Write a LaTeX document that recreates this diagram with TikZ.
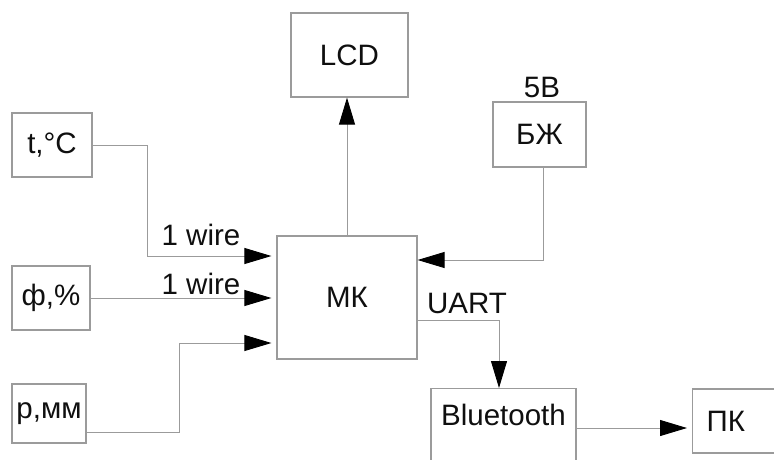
\documentclass[tikz,border=0pt]{standalone}
\usepackage{fontspec}
\setmainfont{Liberation Sans}
\usetikzlibrary{arrows.meta}
\definecolor{boxgray}{RGB}{155,155,155}
\definecolor{inkblack}{RGB}{15,15,15}

\begin{document}
\begin{tikzpicture}[x=1pt,y=-1pt,
        font=\fontsize{29.5}{33}\selectfont, text=inkblack,
        block/.style={draw=boxgray, line width=1.2pt, inner sep=0pt},
        wire/.style={draw=boxgray, line width=0.9pt,
            -{Triangle[length=27pt,width=16pt,color=black]}}]
            \useasboundingbox (0,0) rectangle (774,459);
            \clip (0,0) rectangle (774,459);

            \node[block, minimum width=117pt, minimum height=84pt] (lcd) at (349.5,55) {LCD};
            \node[block, minimum width=80pt, minimum height=64pt] (temp) at (52,145) {t,°C};
            \node[block, minimum width=78pt, minimum height=64pt] (hum) at (51,298) {ф,\%};
            \node[block, minimum width=74pt, minimum height=59pt] (pres) at (49,413.5) {р,мм};
            \node[block, minimum width=140pt, minimum height=123pt] (mk) at (347,297.5) {МК};
            \node[block, minimum width=93pt, minimum height=65pt] (bzh) at (539.5,134.5) {БЖ};
            \node[block, anchor=north, minimum width=145pt, inner ysep=14pt,
                text height=23pt, text depth=60pt] (bt) at (503.5,388) {Bluetooth};
            \node[block, anchor=west, minimum height=64pt, inner xsep=14pt,
                text width=100pt, align=left] (pk) at (692,421) {ПК};

            \node (v5) at (542,87) {5В};
            \node (w1) at (201,235) {1 wire};
            \node (w2) at (201,284) {1 wire};
            \node (uart) at (467,303) {UART};

            \draw[wire, shorten >=5pt] (temp.east) -| (147,256) -- ([yshift=41.5pt]mk.west);
            \draw[wire, shorten >=5pt] (hum.east) -- (hum.east -| mk.west);
            \draw[wire, shorten >=5pt] ([yshift=-18.5pt]pres.east) -| (179,343) -- ([yshift=-45.5pt]mk.west);
            \draw[wire] (mk.north) -- (mk.north |- lcd.south);
            \draw[wire] ([xshift=3.5pt]bzh.south) |- ([yshift=37.5pt]mk.east);
            \draw[wire] ([yshift=-22.5pt]mk.east) -| ([xshift=-4.5pt]bt.north);
            \draw[wire, shorten >=5pt] ([yshift=-40pt]bt.north east) coordinate (b1) -- (b1 -| pk.west);
        \end{tikzpicture}
\end{document}
